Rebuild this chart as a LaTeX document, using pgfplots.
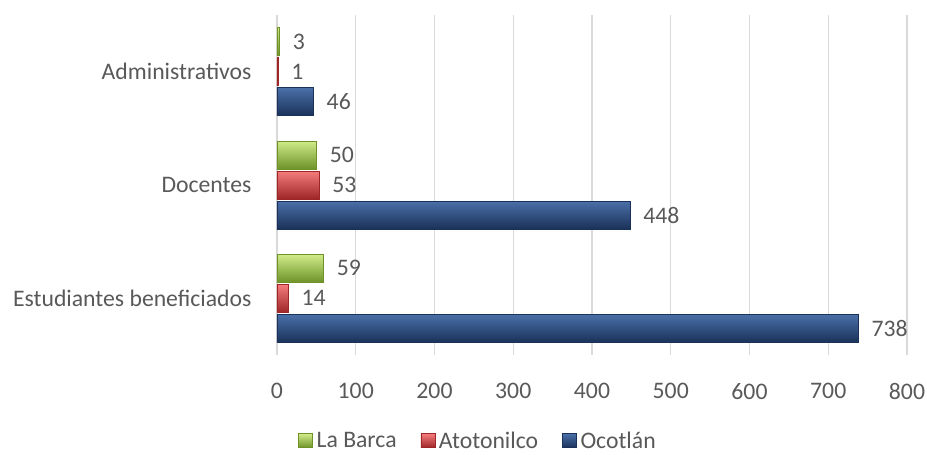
\documentclass[border=0pt]{standalone}
\usepackage{pgfplots}
\pgfplotsset{compat=1.18}
\usepackage{fontspec}
\setmainfont{Carlito}
\definecolor{txt}{HTML}{595959}
\definecolor{gridc}{HTML}{D9D9D9}
\definecolor{bluetop}{HTML}{4A6FA8}
\definecolor{bluemid}{HTML}{24457A}
\definecolor{bluebot}{HTML}{1A3259}
\definecolor{redtop}{HTML}{F47C7C}
\definecolor{redmid}{HTML}{D03C3C}
\definecolor{redbot}{HTML}{9E2626}
\definecolor{greentop}{HTML}{D0EC8A}
\definecolor{greenmid}{HTML}{9CC744}
\definecolor{greenbot}{HTML}{6E9228}
\pgfplotsset{
  blue bar/.style={draw=bluebot, top color=bluetop, middle color=bluemid, bottom color=bluebot, bar shift=-30bp},
  red bar/.style={draw=redbot, top color=redtop, middle color=redmid, bottom color=redbot, bar shift=0bp},
  green bar/.style={draw=greenbot, top color=greentop, middle color=greenmid, bottom color=greenbot, bar shift=30bp},
}
\begin{document}
\begin{tikzpicture}
\useasboundingbox (-277bp,-100bp) rectangle (650bp,355bp);
\begin{axis}[
  at={(0,0)}, anchor=south west,
  scale only axis, width=630bp, height=340bp,
  xmin=0, xmax=800, ymin=-0.5, ymax=2.5,
  xtick={0,100,...,800},
  ytick={0,1,2},
  yticklabels={Estudiantes beneficiados,Docentes,Administrativos},
  /pgf/number format/assume math mode=true,
  xmajorgrids, ymajorgrids=false, major grid style={draw=gridc, line width=1.3bp},
  axis lines*=left,
  x axis line style={draw=none},
  y axis line style={draw=gridc, line width=1.3bp, -},
  major tick length=0pt,
  tick label style={font=\fontsize{23.7bp}{28bp}\selectfont, text=txt},
  xticklabel style={yshift=-25bp},
  yticklabel style={xshift=-22bp},
  xbar, bar width=28bp,
  nodes near coords,
  nodes near coords style={font=\fontsize{23.7bp}{28bp}\selectfont, text=txt, anchor=west, xshift=10bp},
  legend style={draw=none, at={(0.319,-0.252)}, anchor=center, legend columns=-1,
    font=\fontsize{23.7bp}{28bp}\selectfont, text=txt, inner sep=1bp,
    /tikz/every odd column/.append style={column sep=2bp},
    /tikz/every even column/.append style={column sep=22bp}},
  legend cell align=left,
  legend image code/.code={\draw[#1] (0bp,-7bp) rectangle (14bp,7bp);},
]
\addlegendimage{green bar}
\addlegendentry{La Barca}
\addlegendimage{red bar}
\addlegendentry{Atotonilco}
\addlegendimage{blue bar}
\addlegendentry{Ocotlán}
% Ocotlán
\addplot[blue bar, forget plot] coordinates {(738,0)};
\addplot[blue bar, forget plot] coordinates {(448,1)};
\addplot[blue bar, forget plot] coordinates {(46,2)};
% Atotonilco
\addplot[red bar, forget plot] coordinates {(14,0)};
\addplot[red bar, forget plot] coordinates {(53,1)};
\addplot[red bar, forget plot] coordinates {(1,2)};
% La Barca
\addplot[green bar, forget plot] coordinates {(59,0)};
\addplot[green bar, forget plot] coordinates {(50,1)};
\addplot[green bar, forget plot] coordinates {(3,2)};
\end{axis}
\end{tikzpicture}
\end{document}
